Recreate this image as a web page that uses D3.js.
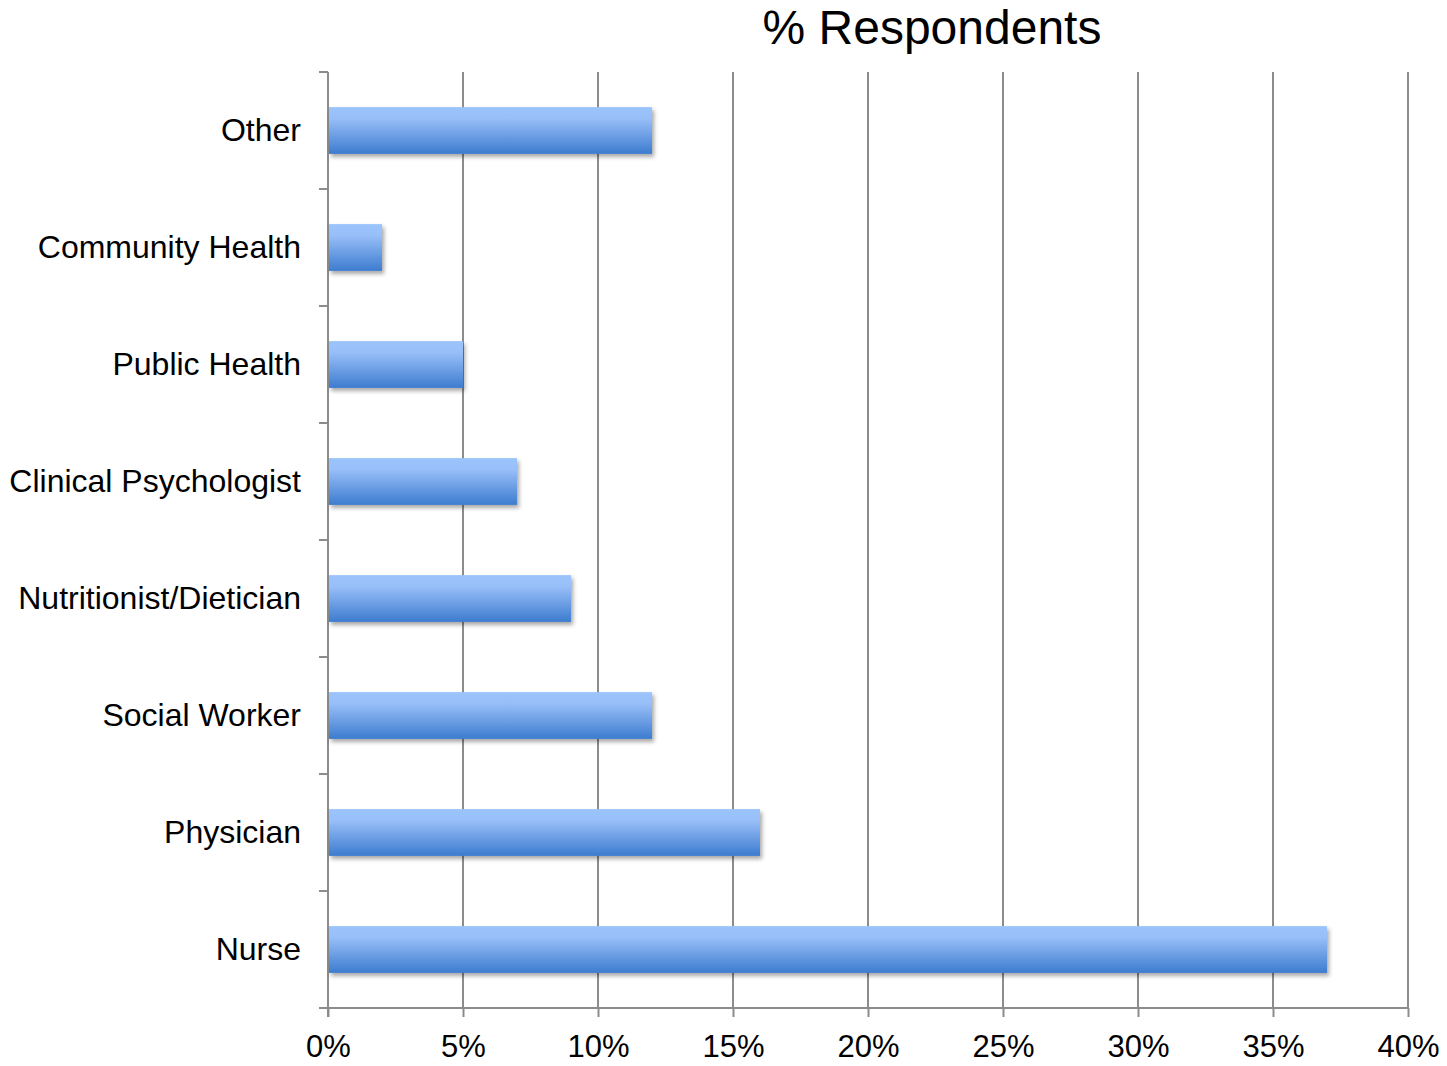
<!DOCTYPE html>
<html>
<head>
<meta charset="utf-8">
<script src="https://cdn.jsdelivr.net/npm/d3@7"></script>
<style>
  html, body { margin: 0; padding: 0; background: #fff; }
  svg text { font-family: "Liberation Sans", Arial, sans-serif; fill: #000; }
</style>
</head>
<body>
<svg id="chart" width="1447" height="1066"></svg>
<script>
// Professions, listed top to bottom
const categories = ["Other", "Community Health", "Public Health", "Clinical Psychologist",
                    "Nutritionist/Dietician", "Social Worker", "Physician", "Nurse"];
// Share of respondents, percent
const values = [12, 2, 5, 7, 9, 12, 16, 37];
// Axis ticks, percent
const ticks = [0, 5, 10, 15, 20, 25, 30, 35, 40];
const title = "% Respondents";

const svg = d3.select("#chart");
const plotLeft = 328, plotRight = 1408, plotTop = 72, plotBottom = 1008;
const gridColor = "#8c8c8c";

const x = d3.scaleLinear().domain([0, 40]).range([plotLeft, plotRight]);
const y = d3.scaleBand().domain(categories).range([plotTop, plotBottom])
  .paddingInner(0.6).paddingOuter(0.3);
const step = y.step();

const defs = svg.append("defs");
const grad = defs.append("linearGradient").attr("id", "barGrad")
  .attr("x1", 0).attr("y1", 0).attr("x2", 0).attr("y2", 1);
grad.append("stop").attr("offset", "0%").attr("stop-color", "#9cc4fc");
grad.append("stop").attr("offset", "25%").attr("stop-color", "#97bef8");
grad.append("stop").attr("offset", "100%").attr("stop-color", "#3d7ccf");
const shadow = defs.append("filter").attr("id", "barShadow")
  .attr("x", "-5%").attr("y", "-20%").attr("width", "115%").attr("height", "160%");
shadow.append("feDropShadow").attr("dx", 2).attr("dy", 3).attr("stdDeviation", 2.2)
  .attr("flood-color", "#000").attr("flood-opacity", 0.35);

// Vertical gridlines
svg.append("g").selectAll("line").data(ticks.filter(t => t > 0)).join("line")
  .attr("x1", d => x(d)).attr("x2", d => x(d))
  .attr("y1", plotTop).attr("y2", plotBottom)
  .attr("stroke", gridColor).attr("stroke-width", 2);

// Bottom axis
const xAxis = d3.axisBottom(x).tickValues(ticks).tickFormat(d => d + "%")
  .tickSize(9).tickSizeOuter(0).tickPadding(18);
const gx = svg.append("g").attr("transform", `translate(0,${plotBottom})`).call(xAxis);
gx.select(".domain").remove();
gx.selectAll(".tick line").attr("stroke", gridColor).attr("stroke-width", 2);
gx.selectAll(".tick text").attr("font-size", 31).attr("font-family", "Liberation Sans, Arial, sans-serif")
  .attr("fill", "#000");
gx.append("line").attr("x1", plotLeft - 9).attr("x2", plotRight).attr("y1", 0).attr("y2", 0)
  .attr("stroke", gridColor).attr("stroke-width", 2);

// Left axis: ticks at category boundaries
const bounds = d3.range(categories.length + 1).map(i => plotTop + i * step);
svg.append("g").selectAll("line").data(bounds).join("line")
  .attr("x1", plotLeft - 9).attr("x2", plotLeft).attr("y1", d => d).attr("y2", d => d)
  .attr("stroke", gridColor).attr("stroke-width", 2);
svg.append("line").attr("x1", plotLeft).attr("x2", plotLeft).attr("y1", plotTop).attr("y2", plotBottom + 9)
  .attr("stroke", gridColor).attr("stroke-width", 2);

// Category labels
svg.append("g").selectAll("text").data(categories).join("text")
  .attr("x", 301).attr("y", d => y(d) + y.bandwidth() / 2 - 1)
  .attr("dy", "0.35em").attr("text-anchor", "end").attr("font-size", 32)
  .text(d => d);

// Bars
svg.append("g").selectAll("rect").data(categories).join("rect")
  .attr("x", x(0) + 1).attr("y", d => y(d))
  .attr("width", (d, i) => x(values[i]) - x(0) - 1)
  .attr("height", y.bandwidth())
  .attr("fill", "url(#barGrad)").attr("filter", "url(#barShadow)");

// Title
svg.append("text").attr("x", 932).attr("y", 44).attr("text-anchor", "middle")
  .attr("font-size", 48).text(title);
</script>
</body>
</html>
